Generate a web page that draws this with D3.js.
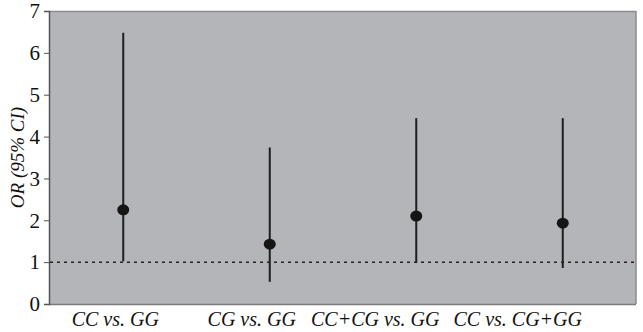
<!DOCTYPE html>
<html><head><meta charset="utf-8">
<script src="https://cdn.jsdelivr.net/npm/d3@7/dist/d3.min.js"></script>
<style>
@font-face{font-family:"ChartSerif";src:local("Liberation Serif"),local("LiberationSerif");font-style:normal;}
@font-face{font-family:"ChartSerif";src:local("Liberation Serif Italic"),local("LiberationSerif-Italic");font-style:italic;}
body{margin:0;background:#fff}
</style>
</head><body>
<script>
const groups = ["CC vs. GG", "CG vs. GG", "CC+CG vs. GG", "CC vs. CG+GG"];
const oddsRatio = [2.25, 1.43, 2.10, 1.93];
const ciLow = [1.02, 0.53, 0.98, 0.86];
const ciHigh = [6.48, 3.74, 4.44, 4.44];
const yTicks = [0, 1, 2, 3, 4, 5, 6, 7];
const refValue = 1;
const labelShift = [-8, -18, -41, -45];

const FONT = '"Liberation Serif", "ChartSerif", "Times New Roman", serif';
const W = 643, H = 332;
const m = {l: 49, r: 7, t: 11, b: 28};
const svg = d3.select("body").append("svg").attr("width", W).attr("height", H)
  .style("display", "block").style("font-family", FONT);
const x = d3.scaleLinear().domain([-0.5, 3.5]).range([m.l + 1, W - m.r]);
const xPos = i => x(i);
const y = d3.scaleLinear().domain([0, 7]).range([H - m.b, m.t]);

svg.append("rect").attr("x", m.l).attr("y", m.t).attr("width", W - m.r - m.l).attr("height", H - m.b - m.t)
  .attr("fill", "#b4b5b9");
svg.append("line").attr("x1", m.l).attr("x2", W - m.r).attr("y1", m.t + 0.5).attr("y2", m.t + 0.5).attr("stroke", "#8c8d90").attr("stroke-width", 1.5);
svg.append("line").attr("x1", W - m.r).attr("x2", W - m.r).attr("y1", m.t).attr("y2", H - m.b).attr("stroke", "#8c8d90").attr("stroke-width", 1.5);
svg.append("line").attr("x1", m.l).attr("x2", W - m.r).attr("y1", H - m.b + 0.5).attr("y2", H - m.b + 0.5).attr("stroke", "#7a7b7e").attr("stroke-width", 1.5);

const yAxis = d3.axisLeft(y).tickValues(yTicks).tickSize(5).tickPadding(4).tickFormat(d3.format("d"));
const ga = svg.append("g").attr("transform", `translate(${m.l},0)`).call(yAxis);
ga.attr("font-family", null);
ga.select(".domain").attr("stroke", "#555").attr("stroke-width", 1.5);
ga.selectAll(".tick line").attr("stroke", "#555");
ga.selectAll("text").style("font-family", FONT, "important").style("font-size", "21px").attr("fill", "#111");

svg.append("text").attr("transform", `translate(24,${(m.t + H - m.b) / 2}) rotate(-90)`)
  .attr("text-anchor", "middle").style("font-family", FONT, "important").style("font-style", "italic")
  .style("font-size", "19px").attr("fill", "#111").text("OR (95% CI)");

svg.append("line").attr("x1", m.l + 1).attr("x2", W - m.r).attr("y1", y(refValue)).attr("y2", y(refValue))
  .attr("stroke", "#222").attr("stroke-width", 1.5).attr("stroke-dasharray", "3,4");

svg.selectAll(".eb").data(groups).enter().append("line")
  .attr("x1", (d, i) => xPos(i)).attr("x2", (d, i) => xPos(i))
  .attr("y1", (d, i) => y(ciLow[i])).attr("y2", (d, i) => y(ciHigh[i]))
  .attr("stroke", "#1e1e1e").attr("stroke-width", 2);

svg.selectAll(".pt").data(groups).enter().append("ellipse")
  .attr("cx", (d, i) => xPos(i)).attr("cy", (d, i) => y(oddsRatio[i]))
  .attr("rx", 6).attr("ry", 5.5).attr("fill", "#151515");

svg.selectAll(".xl").data(groups).enter().append("text")
  .attr("x", (d, i) => xPos(i) + labelShift[i]).attr("y", H - 6)
  .attr("text-anchor", "middle").style("font-family", FONT, "important").style("font-style", "italic")
  .style("font-size", "20px").attr("fill", "#111").text(d => d);
</script>
</body></html>
